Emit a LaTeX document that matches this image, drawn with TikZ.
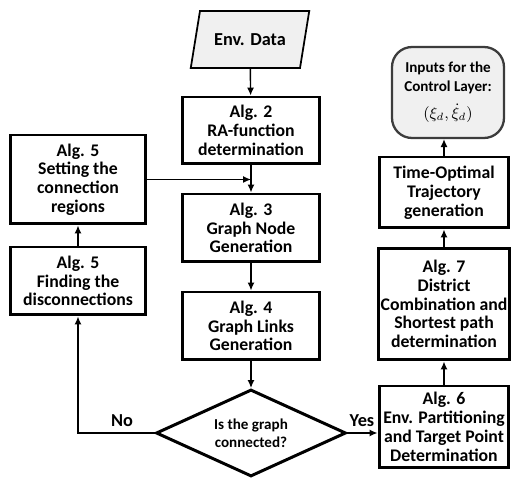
\documentclass[tikz,border=0pt]{standalone}
\usepackage{fontspec}
\setmainfont{Carlito}
\usetikzlibrary{shapes.geometric,arrows.meta}

\definecolor{boxgray}{HTML}{F0F0F0}
\definecolor{edgegray}{HTML}{3C3C3C}

\tikzset{
  algbox/.style={draw, line width=1.7pt, align=center, inner sep=1pt,
    font=\fontsize{10.1}{10.7}\selectfont\bfseries},
  datain/.style={draw, line width=1pt, fill=boxgray, trapezium,
    trapezium left angle=72, trapezium right angle=108, trapezium stretches=true,
    minimum width=2.38cm, minimum height=1.14cm,
    font=\fontsize{10.4}{11}\selectfont\bfseries},
  decide/.style={draw, line width=1.7pt, diamond, aspect=2.2, align=center,
    minimum width=3.8cm, minimum height=1.74cm, inner sep=0pt,
    font=\fontsize{8.6}{10.4}\selectfont\bfseries},
  outputs/.style={draw=edgegray, line width=1.3pt, fill=boxgray, rounded corners=0.4cm,
    align=center, minimum width=2.24cm, minimum height=1.82cm,
    font=\fontsize{8.6}{10.6}\selectfont\bfseries},
  arrow/.style={line width=0.8pt, -{Latex[length=4.5pt,width=4pt]}},
  lbl/.style={font=\fontsize{10.4}{11}\selectfont\bfseries}
}

\begin{document}
\begin{tikzpicture}[x=0.02cm, y=-0.02cm]
  % Marco del dibujo
  \useasboundingbox (0,0) rectangle (511,479);

  % Columna central
  \node[datain] (envdata) at (250,39.5) {Env. Data};
  \node[algbox, minimum width=2.76cm, minimum height=1.34cm] (alg2) at (251,130.5)
    {Alg. 2\\RA-function\\determination};
  \node[algbox, minimum width=2.76cm, minimum height=1.36cm] (alg3) at (251,228)
    {Alg. 3\\Graph Node\\Generation};
  \node[algbox, minimum width=2.76cm, minimum height=1.36cm] (alg4) at (251,326)
    {Alg. 4\\Graph Links\\Generation};
  \node[decide] (connected) at (251,433) {Is the graph\\connected?};

  % Columna izquierda
  \node[algbox, minimum width=2.72cm, minimum height=1.78cm] (setting) at (78,179.5)
    {Alg. 5\\Setting the\\connection\\regions};
  \node[algbox, minimum width=2.72cm, minimum height=1.36cm] (finding) at (78,281)
    {Alg. 5\\Finding the\\disconnections};

  % Columna derecha
  \node[algbox, minimum width=2.6cm, minimum height=1.64cm] (alg6) at (444,427)
    {Alg. 6\\Env. Partitioning\\and Target Point\\Determination};
  \node[algbox, minimum width=2.6cm, minimum height=2.24cm] (alg7) at (444,304)
    {Alg. 7\\District\\Combination and\\Shortest path\\determination};
  \node[algbox, minimum width=2.6cm, minimum height=1.42cm] (timeopt) at (444,192.5)
    {Time-Optimal\\Trajectory\\generation};
  \node[outputs] (inputs) at (448,92.5)
    {Inputs for the\\Control Layer:\\[5pt] {\normalfont\fontsize{9}{10}\selectfont$(\xi_d,\dot{\xi}_d)$}};

  % Flechas
  \draw[arrow] (envdata) -- (alg2);
  \draw[arrow] (alg2) -- (alg3);
  \draw[arrow] (setting.east) -- (setting.east -| alg3.north);
  \draw[arrow] (alg3) -- (alg4);
  \draw[arrow] (alg4) -- (connected);
  \draw[arrow] (connected.west) -| (finding.south);
  \draw[arrow] (finding) -- (setting);
  \draw[arrow] (connected.east) -- (connected.east -| alg6.west);
  \draw[arrow] (alg6) -- (alg7);
  \draw[arrow] (alg7) -- (timeopt);
  \draw[arrow] (timeopt.north) -- (timeopt.north |- inputs.south);

  % Etiquetas
  \node[lbl, above] (nolbl) at (122,433) {No};
  \node[lbl, above] (yeslbl) at (362,433) {Yes};
\end{tikzpicture}
\end{document}
